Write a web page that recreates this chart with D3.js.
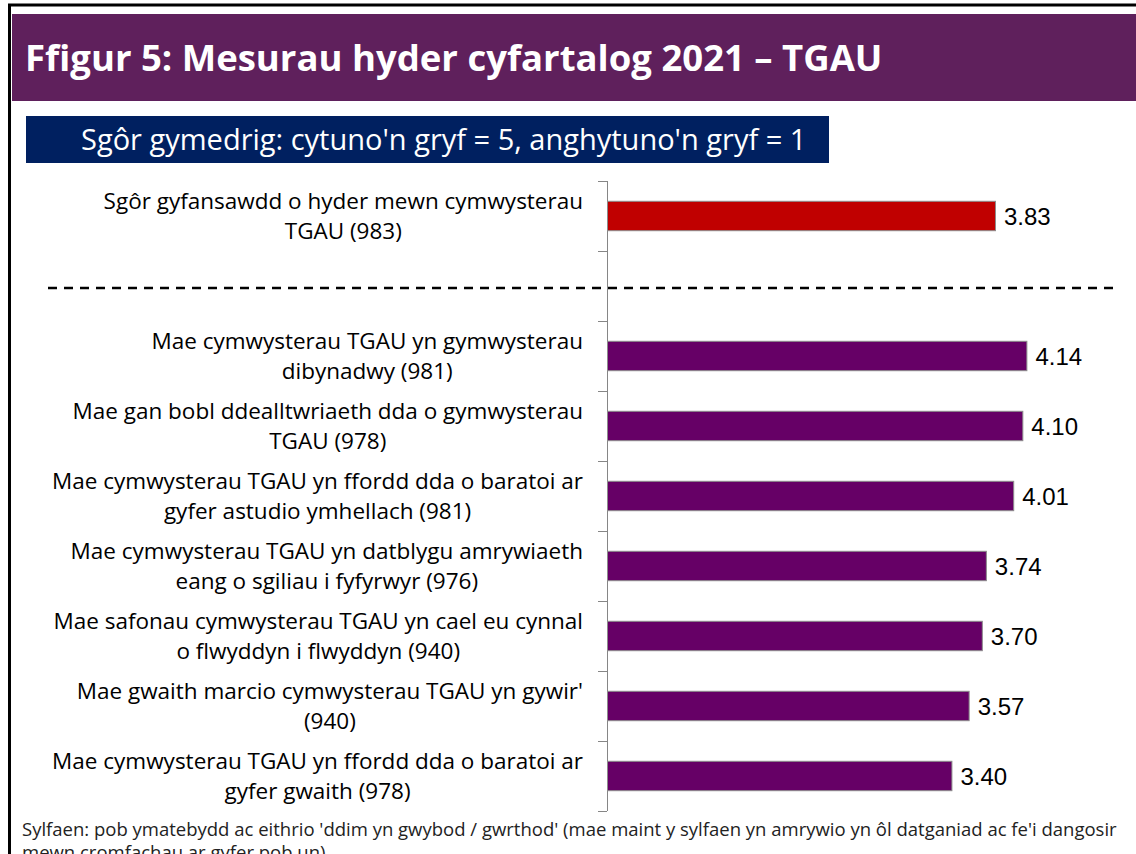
<!DOCTYPE html>
<html>
<head>
<meta charset="utf-8">
<script src="https://cdn.jsdelivr.net/npm/d3@7"></script>
<style>
  body { margin: 0; background: #fff; }
  svg { display: block; }
</style>
</head>
<body>
<script>
// chart data
const title = "Ffigur 5: Mesurau hyder cyfartalog 2021 \u2013 TGAU";
const subtitle = "Sgôr gymedrig: cytuno'n gryf = 5, anghytuno'n gryf = 1";
const footnote = [
  "Sylfaen: pob ymatebydd ac eithrio 'ddim yn gwybod / gwrthod' (mae maint y sylfaen yn amrywio yn ôl datganiad ac fe'i dangosir",
  "mewn cromfachau ar gyfer pob un)"
];
// empty row = gap where the dashed separator goes
const labels = [
  ["Sgôr gyfansawdd o hyder mewn cymwysterau", "TGAU (983)"],
  [],
  ["Mae cymwysterau TGAU yn gymwysterau", "dibynadwy (981)"],
  ["Mae gan bobl ddealltwriaeth dda o gymwysterau", "TGAU (978)"],
  ["Mae cymwysterau TGAU yn ffordd dda o baratoi ar", "gyfer astudio ymhellach (981)"],
  ["Mae cymwysterau TGAU yn datblygu amrywiaeth", "eang o sgiliau i fyfyrwyr (976)"],
  ["Mae safonau cymwysterau TGAU yn cael eu cynnal", "o flwyddyn i flwyddyn (940)"],
  ["Mae gwaith marcio cymwysterau TGAU yn gywir'", "(940)"],
  ["Mae cymwysterau TGAU yn ffordd dda o baratoi ar", "gyfer gwaith (978)"]
];
const values = [3.83, null, 4.14, 4.10, 4.01, 3.74, 3.70, 3.57, 3.40];
const isOverall = [true, false, false, false, false, false, false, false, false];

const W = 1136, H = 854;
const font = "'Open Sans', 'Noto Sans', sans-serif";
const svg = d3.select("body").append("svg")
    .attr("width", W)
    .attr("height", H);

// frame
svg.append("rect")
    .attr("x", 9.5).attr("y", 5)
    .attr("width", W + 10).attr("height", H + 10)
    .attr("fill", "none")
    .attr("stroke", "#000")
    .attr("stroke-width", 3);

// title banner
svg.append("rect")
    .attr("x", 12).attr("y", 14)
    .attr("width", W - 12).attr("height", 87)
    .attr("fill", "#5f205c");
svg.append("text")
    .attr("x", 25).attr("y", 71)
    .attr("fill", "#fff")
    .style("font-family", font)
    .style("font-weight", "bold")
    .style("font-size", "36.5px")
    .text(title);

// subtitle box
svg.append("rect")
    .attr("x", 26).attr("y", 116)
    .attr("width", 803).attr("height", 47)
    .attr("fill", "#002060");
svg.append("text")
    .attr("x", 81).attr("y", 150)
    .attr("fill", "#fff")
    .style("font-family", font)
    .style("font-size", "29px")
    .text(subtitle);

const x = d3.scaleLinear().domain([0, 5]).range([607, 1113.5]);
const y = d3.scaleBand()
    .domain(d3.range(labels.length))
    .range([181, 811])
    .paddingInner(0.58)
    .paddingOuter(0.29);

// axis line and ticks at band edges
const axisColor = "#868686";
svg.append("line")
    .attr("x1", x(0) + 0.5).attr("x2", x(0) + 0.5)
    .attr("y1", y.range()[0]).attr("y2", y.range()[1])
    .attr("stroke", axisColor);
const edges = d3.range(labels.length + 1).map(i => y.range()[0] + i * y.step());
svg.selectAll(".tick")
  .data(edges)
  .join("line")
    .attr("class", "tick")
    .attr("x1", x(0) - 9).attr("x2", x(0))
    .attr("y1", d => Math.round(d) + 0.5).attr("y2", d => Math.round(d) + 0.5)
    .attr("stroke", axisColor);

// dashed separator in the gap row
const gap = values.indexOf(null);
svg.append("line")
    .attr("x1", 48).attr("x2", 1118)
    .attr("y1", y(gap) + y.bandwidth() / 2 + 2)
    .attr("y2", y(gap) + y.bandwidth() / 2 + 2)
    .attr("stroke", "#000")
    .attr("stroke-width", 2.5)
    .attr("stroke-dasharray", "9,7");

const rows = values.map((v, i) => ({v: v, i: i})).filter(d => d.v !== null);

// bars
svg.selectAll(".bar")
  .data(rows)
  .join("rect")
    .attr("class", "bar")
    .attr("x", x(0) + 0.5)
    .attr("y", d => y(d.i))
    .attr("width", d => x(d.v) - x(0))
    .attr("height", y.bandwidth())
    .attr("fill", d => isOverall[d.i] ? "#c00000" : "#660066")
    .attr("stroke", "#8c8c8c")
    .attr("stroke-width", 1);

// value labels
svg.selectAll(".val")
  .data(rows)
  .join("text")
    .attr("class", "val")
    .attr("x", d => x(d.v) + 9)
    .attr("y", d => y(d.i) + y.bandwidth() / 2 + 8.5)
    .attr("fill", "#000")
    .style("font-family", "'Liberation Sans', Arial, sans-serif")
    .style("font-size", "24px")
    .text(d => d3.format(".2f")(d.v));

// category labels: lines centred on each other, block right-aligned
const labelRight = 583, lineH = 30;
labels.forEach((lines, i) => {
  if (!lines.length) return;
  const g = svg.append("g");
  const cy = y(i) + y.bandwidth() / 2;
  const t = g.selectAll("text")
    .data(lines)
    .join("text")
      .attr("y", (d, k) => cy + (k - (lines.length - 1) / 2) * lineH + 8)
      .attr("text-anchor", "middle")
      .attr("fill", "#000")
      .style("font-family", font)
      .style("font-size", "22.5px")
      .text(d => d);
  let maxW = 0;
  t.each(function() { maxW = Math.max(maxW, this.getComputedTextLength()); });
  t.attr("x", labelRight - maxW / 2);
});

// footnote (second line runs off the bottom, as in the original)
svg.selectAll(".foot")
  .data(footnote)
  .join("text")
    .attr("class", "foot")
    .attr("x", 22)
    .attr("y", (d, i) => 836 + i * 23)
    .attr("fill", "#222")
    .style("font-family", font)
    .style("font-size", "18.5px")
    .text(d => d);
</script>
</body>
</html>
